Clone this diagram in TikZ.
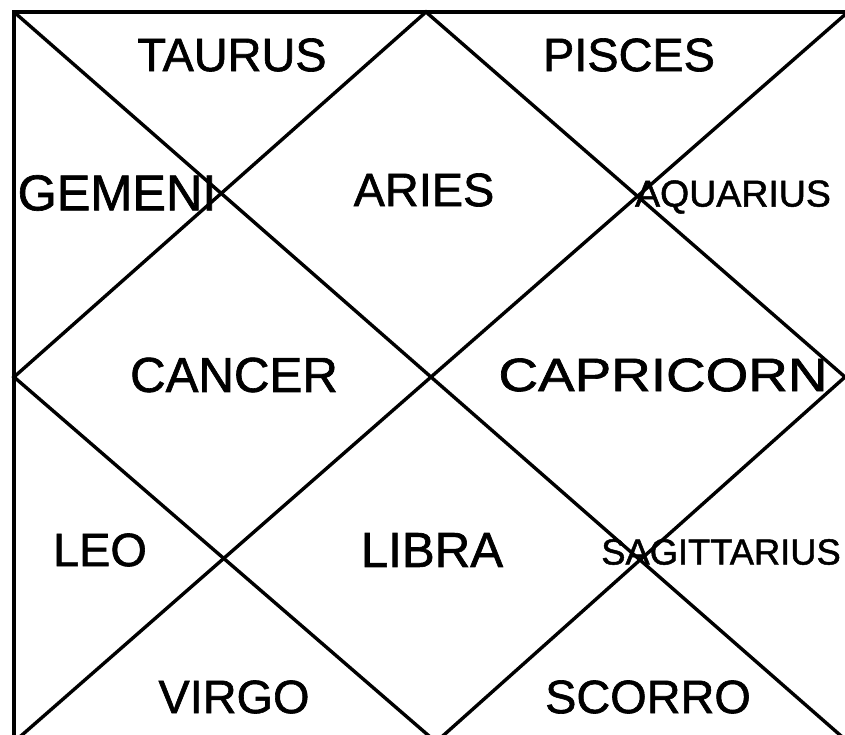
\documentclass[tikz,border=0pt]{standalone}
\usepackage{fontspec}
\setmainfont{Liberation Sans}
\newfontfamily\chartfont[BoldFont={Liberation Sans},BoldFeatures={FakeBold=1.3}]{Liberation Sans}
\begin{document}
\begin{tikzpicture}[x=0.03cm,y=-0.03cm,
  chartline/.style={line width=2.9pt,black,line join=miter},
  sign/.style={font=\chartfont\bfseries\fontsize{40}{44}\selectfont,inner sep=0pt},
  smallsign/.style={font=\chartfont\bfseries\fontsize{31}{34}\selectfont,inner sep=0pt}]
\useasboundingbox[fill=white] (0,0) rectangle (845,735);
% corners and midpoints
\coordinate (tl) at (14,12);
\coordinate (tr) at (848,12);
\coordinate (bl) at (14,742);
\coordinate (br) at (848,742);
\coordinate (tm) at (426,12);
\coordinate (bm) at (436,742);
\coordinate (lm) at (14,377);
\coordinate (rm) at (845,377);
% outer square
\draw[chartline] (bl) -- (tl) -- (tr) -- (br) -- cycle;
% diagonals
\draw[chartline] (tl) -- (br);
\draw[chartline] (tr) -- (bl);
% inner diamond
\draw[chartline] (tm) -- (rm) -- (bm) -- (lm) -- cycle;
% labels
\node[sign] (taurus) at (232,55) {TAURUS};
\node[sign] (pisces) at (629,55) {PISCES};
\node[sign,font=\chartfont\bfseries\fontsize{43}{46}\selectfont] (gemeni) at (117,193) {GEMENI};
\node[sign] (aries) at (424,190) {ARIES};
\node[smallsign,font=\chartfont\bfseries\fontsize{32}{35}\selectfont] (aquarius) at (733,197) {AQUARIUS};
\node[sign,font=\chartfont\bfseries\fontsize{42}{46}\selectfont] (cancer) at (234,375) {CANCER};
\node[sign] (capricorn) at (663,375) {\scalebox{1.17}[1]{CAPRICORN}};
\node[sign] (leo) at (100,550) {LEO};
\node[sign,font=\chartfont\bfseries\fontsize{42}{46}\selectfont] (libra) at (432,550) {LIBRA};
\node[smallsign] (sagittarius) at (721,552) {SAGITTARIUS};
\node[sign] (virgo) at (234,697) {VIRGO};
\node[sign] (scorro) at (648,697) {SCORRO};
\end{tikzpicture}
\end{document}
